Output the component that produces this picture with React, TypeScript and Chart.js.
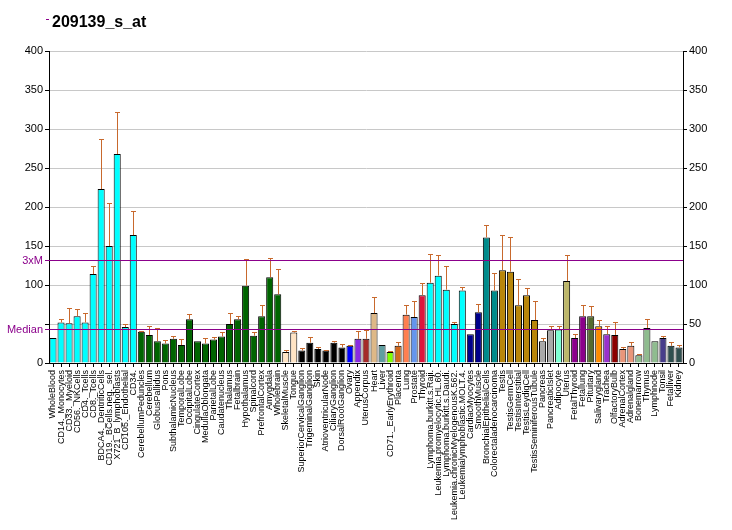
import React, { useEffect, useRef } from 'react';
import { Chart, registerables } from 'chart.js';

Chart.register(...registerables);

const chartTitle = '209139_s_at';

const categories = [
  'WholeBlood', 'CD14._Monocytes', 'CD33._Myeloid', 'CD56._NKCells', 'CD4._Tcells', 'CD8._Tcells',
  'BDCA4._DentriticCells', 'CD19._BCells.neg._sel.', 'X721_B_lymphoblasts', 'CD105._Endothelial', 'CD34.',
  'CerebellumPeduncles', 'Cerebellum', 'GlobusPallidus', 'Pons', 'SubthalamicNucleus', 'TemporalLobe',
  'OccipitalLobe', 'CingulateCortex', 'MedullaOblongata', 'ParietalLobe', 'Caudatenucleus', 'Thalamus',
  'Fetalbrain', 'Hypothalamus', 'Spinalcord', 'PrefrontalCortex', 'Amygdala', 'Wholebrain',
  'SkeletalMuscle', 'Tongue', 'SuperiorCervicalGanglion', 'TrigeminalGanglion', 'Skin',
  'AtrioventricularNode', 'CiliaryGanglion', 'DorsalRootGanglion', 'Ovary', 'Appendix', 'UterusCorpus',
  'Heart', 'Liver', 'CD71._EarlyErythroid', 'Placenta', 'Lung', 'Prostate', 'Thyroid',
  'Lymphoma.burkitt.s.Raji.', 'Leukemia.promyelocytic.HL.60.', 'Lymphoma.burkitt.s.Daudi.',
  'Leukemia.chronicMyelogenousK.562.', 'Leukemialymphoblastic.MOLT.4.', 'CardiacMyocytes', 'SmoothMuscle',
  'BronchialEpithelialCells', 'Colorectaladenocarcinoma', 'Testis', 'TestisGermCell', 'TestisInterstitial',
  'TestisLeydigCell', 'TestisSeminiferousTubule', 'Pancreas', 'PancreaticIslet', 'Adipocyte', 'Uterus',
  'FetalThyroid', 'Fetallung', 'Pituitary', 'Salivarygland', 'Trachea', 'OlfactoryBulb', 'AdrenalCortex',
  'Adrenalgland', 'Bonemarrow', 'Thymus', 'Lymphnode', 'Tonsil', 'Fetalliver', 'Kidney',
];

const values = [
  32, 52, 51, 60, 52, 114, 223, 150, 268, 46, 164,
  40, 36, 28, 25, 31, 23, 56, 28, 25, 30, 34, 50, 56, 99, 35, 60, 110, 88,
  14, 39, 16, 26, 18, 16, 26, 20, 22, 31, 31,
  64, 23, 14, 22, 62, 59, 87,
  103, 112, 94, 50, 93, 37, 65, 161, 93,
  119, 117, 74, 87, 55, 28, 42, 43, 105,
  32, 60, 60, 47, 37, 36, 18, 22, 10, 45, 28, 32, 22, 20,
];

const errors = [
  0, 4, 19, 9, 12, 10, 64, 55, 54, 4, 31,
  1, 12, 17, 5, 3, 8, 7, 0, 7, 3, 6, 14, 4, 34, 5, 15, 24, 32,
  3, 2, 3, 7, 3, 1, 2, 4, 1, 10, 11,
  21, 0, 1, 5, 13, 21, 15,
  37, 27, 30, 2, 5, 0, 11, 16, 23,
  45, 44, 34, 9, 25, 4, 5, 4, 33,
  5, 15, 13, 8, 11, 16, 2, 5, 2, 12, 0, 2, 5, 3,
];

const threeXM = 132;
const medianValue = 44;
const yMin = 0;
const yMax = 400;
const yStep = 50;

const rep = (c: string, n: number) => Array.from({ length: n }, () => c);
const barColors = [
  ...rep('#00FFFF', 11), ...rep('#006400', 18), ...rep('#FFE4C4', 2), ...rep('#000000', 6),
  '#0000FF', '#8A2BE2', '#A52A2A', '#DEB887', '#5F9EA0', '#7FFF00', '#D2691E', '#FF7F50', '#6495ED', '#DC143C',
  ...rep('#00FFFF', 5), ...rep('#00008B', 2), ...rep('#008B8B', 2), ...rep('#B8860B', 5), ...rep('#A9A9A9', 2),
  '#7FFFD4', '#BDB76B', ...rep('#8B008B', 2), '#556B2F', '#FF8C00', '#9932CC', '#8B0000',
  ...rep('#E9967A', 2), ...rep('#8FBC8F', 3), '#483D8B', ...rep('#2F4F4F', 2),
];

const FONT = 'Arial, "Liberation Sans", sans-serif';
const PURPLE = '#8B008B';
const ERR = '#C8692D';

const overlay = {
  id: 'overlay',
  afterDatasetsDraw(chart: any) {
    const { ctx, chartArea, scales } = chart;
    const xs = scales.x;
    const ys = scales.y;
    ctx.save();
    ctx.strokeStyle = ERR;
    ctx.lineWidth = 1;
    values.forEach((v, i) => {
      const e = errors[i];
      if (!e) return;
      const px = Math.round(xs.getPixelForValue(i)) + 0.5;
      const top = Math.round(ys.getPixelForValue(v + e)) + 0.5;
      const base = ys.getPixelForValue(v);
      ctx.beginPath();
      ctx.moveTo(px, base);
      ctx.lineTo(px, top);
      ctx.moveTo(px - 2.5, top);
      ctx.lineTo(px + 2.5, top);
      ctx.stroke();
    });
    ctx.strokeStyle = PURPLE;
    ctx.fillStyle = PURPLE;
    ctx.font = `11px ${FONT}`;
    ctx.textAlign = 'right';
    ctx.textBaseline = 'middle';
    const refs: [number, string][] = [[threeXM, '3xM'], [medianValue, 'Median']];
    refs.forEach(([val, label]) => {
      const py = Math.round(ys.getPixelForValue(val)) + 0.5;
      ctx.beginPath();
      ctx.moveTo(chartArea.left - 4, py);
      ctx.lineTo(chartArea.right, py);
      ctx.stroke();
      ctx.fillText(label, chartArea.left - 6, py);
    });
    ctx.restore();
  },
  afterDraw(chart: any) {
    const { ctx, chartArea } = chart;
    ctx.save();
    ctx.fillStyle = PURPLE;
    ctx.fillRect(chartArea.left - 3, 19, 3, 1);
    ctx.fillStyle = '#000';
    ctx.font = `bold 16px ${FONT}`;
    ctx.textAlign = 'left';
    ctx.textBaseline = 'alphabetic';
    ctx.fillText(chartTitle, chartArea.left + 3, 27);
    ctx.restore();
  },
};

export default function App() {
  const ref = useRef<HTMLCanvasElement | null>(null);
  useEffect(() => {
    document.body.style.margin = '0';
    const canvas = ref.current;
    if (!canvas) return;
    const chart = new Chart(canvas, {
      type: 'bar',
      data: {
        labels: categories,
        datasets: [
          {
            data: values,
            backgroundColor: barColors,
            borderColor: '#000',
            borderWidth: 1,
            barPercentage: 0.88,
            categoryPercentage: 1,
            yAxisID: 'y',
          },
        ],
      },
      options: {
        responsive: false,
        animation: false,
        devicePixelRatio: 1,
        layout: { padding: { top: 51, left: 0, right: 0, bottom: 0 } },
        plugins: {
          legend: { display: false },
          tooltip: { enabled: false },
          title: { display: false },
        },
        scales: {
          x: {
            offset: true,
            grid: {
              offset: false,
              drawOnChartArea: false,
              drawTicks: true,
              tickLength: 4,
              tickColor: '#000',
              color: '#000',
            },
            border: { color: '#000', width: 1 },
            ticks: {
              autoSkip: false,
              minRotation: 90,
              maxRotation: 90,
              padding: 3,
              color: '#000',
              font: { family: FONT, size: 9 },
            },
            afterFit: (s: any) => {
              s.height = 167;
            },
          },
          y: {
            position: 'left',
            min: yMin,
            max: yMax,
            grid: { color: '#C8C8C8', tickColor: '#000', tickLength: 4 },
            border: { color: '#000', width: 1 },
            ticks: {
              stepSize: yStep,
              padding: 2,
              color: '#000',
              font: { family: FONT, size: 11 },
              callback: (v: any) => (Math.abs(Number(v) - medianValue) < 10 ? '' : String(v)),
            },
            afterFit: (s: any) => {
              s.width = 49;
            },
          },
          y2: {
            position: 'right',
            min: yMin,
            max: yMax,
            grid: { drawOnChartArea: false, tickColor: '#000', tickLength: 4 },
            border: { color: '#000', width: 1 },
            ticks: {
              stepSize: yStep,
              padding: 2,
              color: '#000',
              font: { family: FONT, size: 11 },
            },
            afterFit: (s: any) => {
              s.width = 49;
            },
          },
        },
      },
      plugins: [overlay],
    });
    return () => chart.destroy();
  }, []);
  return (
    <div style={{ position: 'absolute', left: 0, top: 0, width: 732, height: 530 }}>
      <canvas ref={ref} width={732} height={530} />
    </div>
  );
}
